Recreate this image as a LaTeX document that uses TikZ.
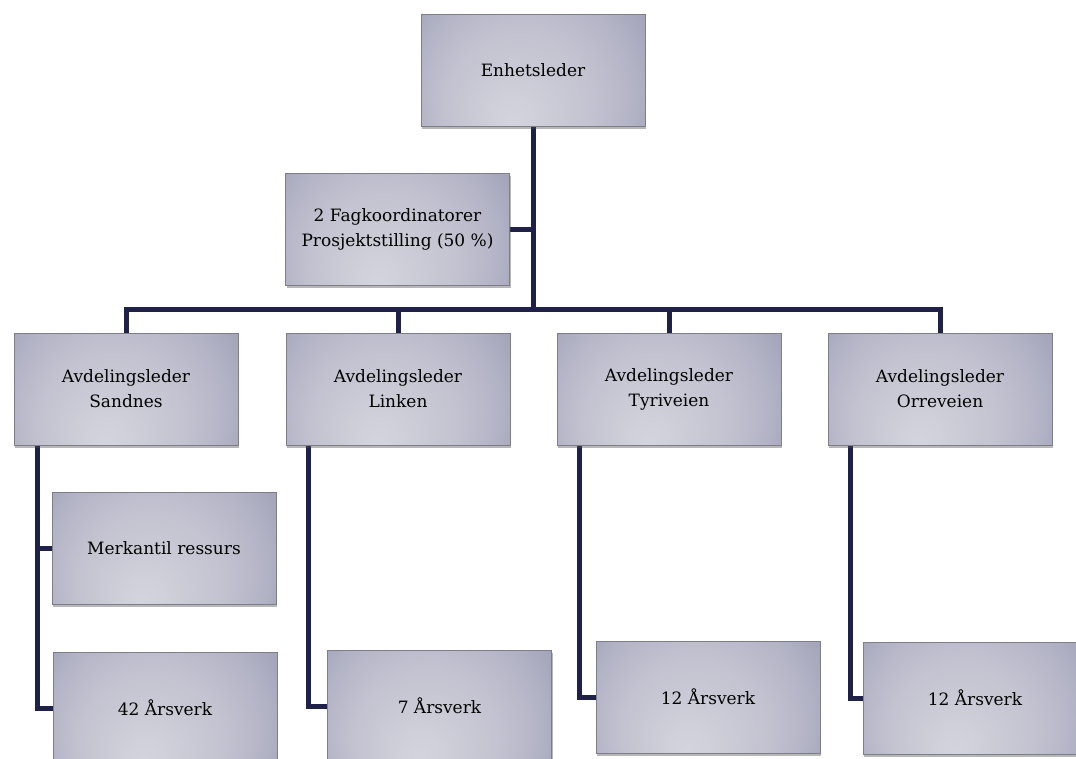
\documentclass[tikz,border=0pt]{standalone}
\usepackage{fontspec}
\setmainfont{DejaVu Serif}
\usetikzlibrary{shadows}
\definecolor{linecol}{HTML}{1F2148}
\definecolor{boxborder}{HTML}{7E7E88}
\pgfdeclareradialshading{boxshade}{\pgfpoint{-22bp}{-56bp}}{%
  color(0bp)=(rgb,255:red,212;green,212;blue,222);
  color(20bp)=(rgb,255:red,208;green,208;blue,218);
  color(70bp)=(rgb,255:red,195;green,195;blue,209);
  color(110bp)=(rgb,255:red,179;green,179;blue,198);
  color(145bp)=(rgb,255:red,158;green,158;blue,181);
  color(175bp)=(rgb,255:red,144;green,144;blue,169);
  color(185bp)=(rgb,255:red,144;green,144;blue,169)}
\tikzset{
  orgbox/.style={draw=boxborder, line width=0.8pt,
    path picture={\pgftext[at=\pgfpointanchor{path picture bounding box}{center}]{\pgfuseshading{boxshade}}},
    minimum width=224pt, minimum height=112pt, inner sep=0pt, align=center,
    font=\fontsize{17}{25}\selectfont,
    drop shadow={shadow xshift=1pt, shadow yshift=-2.5pt, opacity=0.4, fill=black!70}},
  conn/.style={draw=linecol, line width=5pt}
}
\begin{document}
\begin{tikzpicture}[x=1pt,y=1pt]
\useasboundingbox (0,0) rectangle (1076,-758);
\clip (0,0) rectangle (1076,-758);
% connector joints
\coordinate (bus) at (533,-309);
\coordinate (s1) at (37,-445);
\coordinate (l1) at (308,-445);
\coordinate (t1) at (579,-445);
\coordinate (o1) at (850,-445);
\coordinate (bossb) at (533,-126);
\coordinate (sandn) at (126,-333);
\coordinate (linkn) at (398,-333);
\coordinate (tyrin) at (669,-333);
\coordinate (orren) at (940,-333);
\coordinate (fage) at (509,-229);
\coordinate (merkw) at (52,-548);
\coordinate (a42w) at (53,-708);
\coordinate (a7w) at (327,-706);
\coordinate (t12w) at (596,-697);
\coordinate (o12w) at (863,-698);
% connectors (drawn first, boxes on top)
\draw[conn] (bossb) -- (bus);
\draw[conn, line join=miter] (sandn) |- (bus) -| (orren);
\draw[conn] (linkn) -- (linkn |- bus);
\draw[conn] (tyrin) -- (tyrin |- bus);
\draw[conn] (fage) -- (fage -| bus);
\draw[conn, line join=miter] (s1) |- (a42w);
\draw[conn] (s1 |- merkw) -- (merkw);
\draw[conn, line join=miter] (l1) |- (a7w);
\draw[conn, line join=miter] (t1) |- (t12w);
\draw[conn, line join=miter] (o1) |- (o12w);
% boxes
\node[orgbox] (boss) at (533,-70) {Enhetsleder};
\node[orgbox] (fag) at (397.5,-229.5) {2 Fagkoordinatorer\\Prosjektstilling (50 \%)};
\node[orgbox] (sandnes) at (126,-389) {Avdelingsleder\\Sandnes};
\node[orgbox] (linken) at (398,-389) {Avdelingsleder\\Linken};
\node[orgbox] (tyri) at (669,-389) {Avdelingsleder\\Tyriveien};
\node[orgbox] (orre) at (940,-389) {Avdelingsleder\\Orreveien};
\node[orgbox] (merk) at (164,-548) {Merkantil ressurs};
\node[orgbox] (a42) at (165,-708) {42 Årsverk};
\node[orgbox] (a7) at (439.5,-706) {7 Årsverk};
\node[orgbox] (t12) at (708,-697) {12 Årsverk};
\node[orgbox] (o12) at (975,-698) {12 Årsverk};
\end{tikzpicture}
\end{document}
